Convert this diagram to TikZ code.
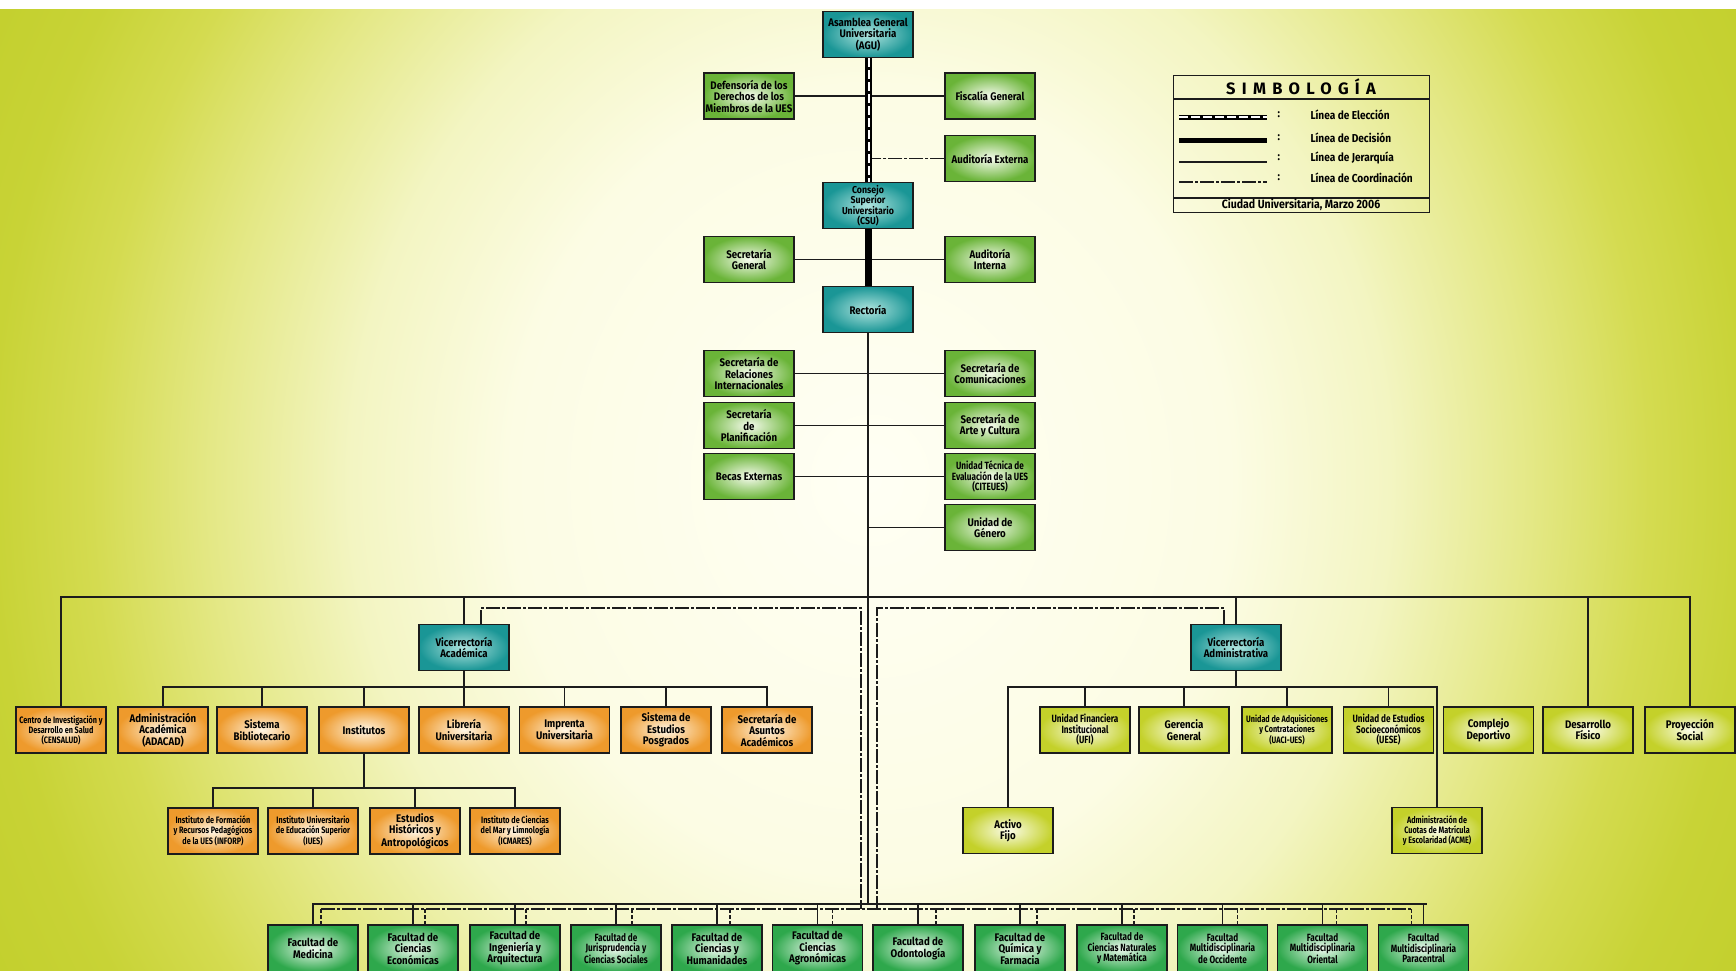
\documentclass[tikz,border=0pt]{standalone}
\usepackage{fontspec}
\newfontfamily\orgfont{Fira Sans}[FakeStretch=0.88]
\newfontfamily\orgfontc{Fira Sans}[FakeStretch=0.78]
\newfontfamily\ttlfont{Fira Sans}[LetterSpace=38]
\definecolor{bga}{HTML}{FFFFF4}
\definecolor{bgb}{HTML}{FCFCE4}
\definecolor{bgc}{HTML}{F3F5C2}
\definecolor{bgd}{HTML}{E4E886}
\definecolor{bge}{HTML}{D4DB50}
\definecolor{bgf}{HTML}{C8D336}
\definecolor{bgg}{HTML}{C2CF2C}
\definecolor{tealout}{HTML}{1A9696}
\definecolor{tealin}{HTML}{B0E4DE}
\definecolor{greenout}{HTML}{6AB438}
\definecolor{greenin}{HTML}{F6FBEE}
\definecolor{orangeout}{HTML}{EE9A2C}
\definecolor{orangein}{HTML}{FFF6E6}
\definecolor{ygout}{HTML}{C4D12A}
\definecolor{ygin}{HTML}{FBFCEA}
\definecolor{facout}{HTML}{2EA84C}
\definecolor{facin}{HTML}{EEF9EF}
\definecolor{linec}{HTML}{1C1C1C}
\pgfdeclareradialshading{bgshade}{\pgfpoint{0bp}{0bp}}{color(0bp)=(bga); color(9bp)=(bgb); color(13bp)=(bgc); color(16.5bp)=(bgd); color(19.5bp)=(bge); color(22bp)=(bgf); color(25bp)=(bgg); color(50bp)=(bgg)}
\tikzset{
  box/.style={draw=linec, line width=1.4pt, minimum width=90pt, minimum height=46pt,
    inner sep=1pt, align=center, text=black,
    font=\orgfont\bfseries\fontsize{11}{11.5}\selectfont},
  tealbox/.style={box, inner color=tealin, outer color=tealout},
  greenbox/.style={box, inner color=greenin, outer color=greenout},
  orangebox/.style={box, inner color=orangein, outer color=orangeout},
  ygbox/.style={box, inner color=ygin, outer color=ygout},
  facbox/.style={box, minimum height=47pt, inner color=facin, outer color=facout},
  tiny/.style={font=\orgfontc\bfseries\fontsize{9.3}{10}\selectfont},
  smallish/.style={font=\orgfontc\bfseries\fontsize{10.5}{10.5}\selectfont},
  hier/.style={line width=1.3pt, draw=linec},
  coord/.style={line width=1.3pt, draw=linec, dash pattern=on 14pt off 2pt on 3pt off 2pt},
  coordtick/.style={line width=1.3pt, draw=linec, dash pattern=on 4pt off 2pt},
  decision/.style={line width=7pt, draw=black},
  electw/.style={line width=1.6pt, draw=white, dash pattern=on 9pt off 3pt},
  legtext/.style={anchor=west, font=\orgfont\bfseries\fontsize{11.5}{12}\selectfont},
}
\begin{document}
\begin{tikzpicture}[x=1pt,y=-1pt]
\useasboundingbox (0,0) rectangle (1736,970);
\shade[shading=bgshade] (-130,-620) rectangle (1870,1580);
\fill[white] (0,0) rectangle (1736,9);

% ---------- top structure ----------
\node[tealbox] (agu) at (868,34.5) {Asamblea General\\Universitaria\\(AGU)};
\node[greenbox] (def) at (749,96) {Defensoría de los\\Derechos de los\\Miembros de la UES};
\node[greenbox] (fis) at (990,96) {Fiscalía General};
\node[greenbox] (aue) at (990,158.5) {Auditoría Externa};
\node[tealbox, font=\orgfont\bfseries\fontsize{10}{10.5}\selectfont] (csu) at (868,205.5) {Consejo\\Superior\\Universitario\\(CSU)};
\node[greenbox] (sg) at (749,259.5) {Secretaría\\General};
\node[greenbox] (ai) at (990,259.5) {Auditoría\\Interna};
\node[tealbox] (rec) at (868,309.5) {Rectoría};
\node[greenbox] (sri) at (749,373.5) {Secretaría de\\Relaciones\\Internacionales};
\node[greenbox] (scom) at (990,373.5) {Secretaría de\\Comunicaciones};
\node[greenbox] (spl) at (749,425.5) {Secretaría\\de\\Planificación};
\node[greenbox] (sart) at (990,425.5) {Secretaría de\\Arte y Cultura};
\node[greenbox] (bex) at (749,476.5) {Becas Externas};
\node[greenbox, smallish] (ute) at (990,476.5) {Unidad Técnica de\\Evaluación de la UES\\(CITEUES)};
\node[greenbox] (uge) at (990,527.5) {Unidad de\\Género};

% ---------- vice-rectorates ----------
\node[tealbox] (vra) at (464,647.5) {Vicerrectoría\\Académica};
\node[tealbox] (vrad) at (1236,647.5) {Vicerrectoría\\Administrativa};

% ---------- orange row ----------
\node[orangebox, tiny] (cens) at (61,730) {Centro de Investigación y\\Desarrollo en Salud\\(CENSALUD)};
\node[orangebox] (adacad) at (163,730) {Administración\\Académica\\(ADACAD)};
\node[orangebox] (sbib) at (262,730) {Sistema\\Bibliotecario};
\node[orangebox] (inst) at (364,730) {Institutos};
\node[orangebox] (lib) at (464,730) {Librería\\Universitaria};
\node[orangebox] (imp) at (564.5,730) {Imprenta\\Universitaria};
\node[orangebox] (sep) at (666,730) {Sistema de\\Estudios\\Posgrados};
\node[orangebox] (saa) at (767,730) {Secretaría de\\Asuntos\\Académicos};

\node[orangebox, tiny] (inforp) at (213,831) {Instituto de Formación\\y Recursos Pedagógicos\\de la UES (INFORP)};
\node[orangebox, tiny] (iues) at (313,831) {Instituto Universitario\\de Educación Superior\\(IUES)};
\node[orangebox] (ehist) at (415,831) {Estudios\\Históricos y\\Antropológicos};
\node[orangebox, tiny] (icm) at (515,831) {Instituto de Ciencias\\del Mar y Limnología\\(ICMARES)};

% ---------- yellow row ----------
\node[ygbox, smallish] (ufi) at (1085,730) {Unidad Financiera\\Institucional\\(UFI)};
\node[ygbox] (gg) at (1184,730) {Gerencia\\General};
\node[ygbox, tiny] (uaci) at (1287,730) {Unidad de Adquisiciones\\y Contrataciones\\(UACI-UES)};
\node[ygbox, smallish] (uese) at (1388.5,730) {Unidad de Estudios\\Socioeconómicos\\(UESE)};
\node[ygbox] (cd) at (1488.5,730) {Complejo\\Deportivo};
\node[ygbox] (df) at (1588,730) {Desarrollo\\Físico};
\node[ygbox] (ps) at (1690,730) {Proyección\\Social};
\node[ygbox] (af) at (1008,830.5) {Activo\\Fijo};
\node[ygbox, tiny] (acme) at (1437,830.5) {Administración de\\Cuotas de Matrícula\\y Escolaridad (ACME)};

% ---------- faculties ----------
\node[facbox] (f1) at (313,948.5) {Facultad de\\Medicina};
\node[facbox] (f2) at (413,948.5) {Facultad de\\Ciencias\\Económicas};
\node[facbox] (f3) at (515,948.5) {Facultad de\\Ingeniería y\\Arquitectura};
\node[facbox, smallish] (f4) at (616,948.5) {Facultad de\\Jurisprudencia y\\Ciencias Sociales};
\node[facbox] (f5) at (717,948.5) {Facultad de\\Ciencias y\\Humanidades};
\node[facbox] (f6) at (817.5,948.5) {Facultad de\\Ciencias\\Agronómicas};
\node[facbox] (f7) at (918,948.5) {Facultad de\\Odontología};
\node[facbox] (f8) at (1020,948.5) {Facultad de\\Química y\\Farmacia};
\node[facbox, smallish] (f9) at (1122,948.5) {Facultad de\\Ciencias Naturales\\y Matemática};
\node[facbox, smallish] (f10) at (1222.5,948.5) {Facultad\\Multidisciplinaria\\de Occidente};
\node[facbox, smallish] (f11) at (1322.5,948.5) {Facultad\\Multidisciplinaria\\Oriental};
\node[facbox, smallish] (f12) at (1423.5,948.5) {Facultad\\Multidisciplinaria\\Paracentral};

% ---------- helper coordinates ----------
\coordinate (tl) at (0,597);
\coordinate (sl) at (0,687);
\coordinate (il) at (0,788);
\coordinate (fline) at (0,904);
\coordinate (dl) at (0,909);
\coordinate (cvl) at (861,608);
\coordinate (cvr) at (877,608);

% ---------- connectors: top ----------
\draw[hier] (def.east) -- (fis.west);
\draw[coord] (aue.west) -- (aue.west -| agu.south);
\draw[hier] (sg.east) -- (ai.west);
\draw[hier] (sri.east) -- (scom.west);
\draw[hier] (spl.east) -- (sart.west);
\draw[hier] (bex.east) -- (ute.west);
\draw[hier] (uge.west) -- (uge.west -| rec.south);
\draw[hier] (rec.south) -- (rec.south |- fline);
\draw[decision] (agu.south) -- (csu.north);
\draw[electw] ([xshift=1]agu.south) -- ([xshift=1]csu.north);
\draw[decision] (csu.south) -- (rec.north);

% ---------- top horizontal ----------
\draw[hier] (cens.north) |- (ps.north |- tl) -- (ps.north);
\draw[hier] (vra.north) -- (vra.north |- tl);
\draw[hier] (vrad.north) -- (vrad.north |- tl);
\draw[hier] (df.north) -- (df.north |- tl);

% ---------- academic branch ----------
\draw[hier] (vra.south) -- (vra.south |- sl);
\draw[hier] (adacad.north) |- (saa.north |- sl) -- (saa.north);
\foreach \n in {sbib,inst,lib,imp,sep} \draw[hier] (\n.north) -- (\n.north |- sl);
\draw[hier] (inst.south) -- (inst.south |- il);
\draw[hier] (inforp.north) |- (icm.north |- il) -- (icm.north);
\foreach \n in {iues,ehist} \draw[hier] (\n.north) -- (\n.north |- il);

% ---------- administrative branch ----------
\draw[hier] (vrad.south) -- (vrad.south |- sl);
\draw[hier] (af.north) |- (acme.north |- sl) -- (acme.north);
\foreach \n in {ufi,gg,uaci,uese} \draw[hier] (\n.north) -- (\n.north |- sl);

% ---------- faculties ----------
\draw[hier] (f1.north) |- ([xshift=3]f12.north |- fline);
\foreach \n in {f2,f3,f4,f5,f6,f7,f8,f9,f10,f11,f12} \draw[hier] (\n.north) -- (\n.north |- fline);
\draw[coord] ([xshift=17]vra.north) |- (cvl) -- (cvl |- dl);
\draw[coord] ([xshift=-12]vrad.north) |- (cvr) -- (cvr |- dl);
\draw[coord] ([xshift=8]f1.north |- dl) -- ([xshift=-12]f12.north |- dl);
\foreach \n/\o in {f1/8,f2/12,f3/11,f4/16,f5/13,f6/15,f7/18,f8/17,f9/12,f10/15,f11/14,f12/-12}
  \draw[coordtick] ([xshift=\o]\n.north |- dl) -- ([xshift=\o]\n.north);

% ---------- legend ----------
\node[draw=linec, line width=1.3pt, minimum width=256pt, minimum height=137pt, inner sep=0pt, anchor=north west] (leg) at (1173,75) {};
\coordinate (lg1) at (0,99);
\coordinate (lg2) at (0,198);
\draw[line width=1.2pt, linec] (leg.west |- lg1) -- (leg.east |- lg1);
\draw[line width=1.2pt, linec] (leg.west |- lg2) -- (leg.east |- lg2);
\node[font=\ttlfont\bfseries\fontsize{16.5}{16.5}\selectfont] (legt) at (1301,87) {SIMBOLOGÍA};
\coordinate (l1a) at (1179,117); \coordinate (l1b) at (1267,117);
\coordinate (l2a) at (1179,140); \coordinate (l2b) at (1267,140);
\coordinate (l3a) at (1179,162); \coordinate (l3b) at (1267,162);
\coordinate (l4a) at (1179,182); \coordinate (l4b) at (1267,182);
\draw[line width=5pt, black] (l1a) -- (l1b);
\draw[line width=1.2pt, white, dash pattern=on 9pt off 3pt] (l1a) -- (l1b);
\draw[line width=5pt, black] (l2a) -- (l2b);
\draw[hier] (l3a) -- (l3b);
\draw[coord] (l4a) -- (l4b);
\foreach \y/\t [count=\i] in {115/Línea de Elección,138/Línea de Decisión,158/Línea de Jerarquía,178/Línea de Coordinación}{
  \node[legtext] (lc\i) at (1274,\y) {:};
  \node[legtext] (lt\i) at (1307,\y) {\t};
}
\node[font=\orgfont\bfseries\fontsize{12}{12}\selectfont] (legf) at (1301,205) {Ciudad Universitaria, Marzo 2006};
\end{tikzpicture}
\end{document}
